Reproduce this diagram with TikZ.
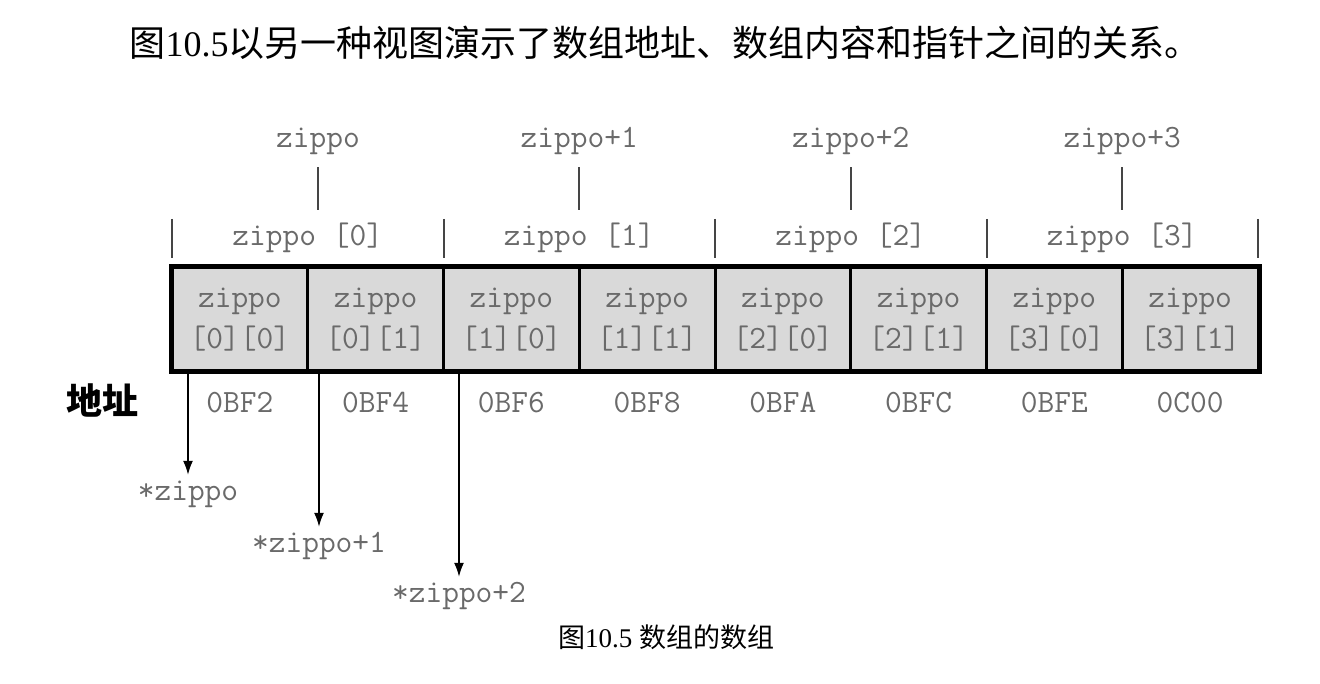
\documentclass[tikz,border=0pt]{standalone}
\usepackage{fontspec}
\setmainfont{Liberation Serif}
\newfontfamily\cjk{Noto Sans CJK SC}
\usetikzlibrary{arrows.meta}
\definecolor{txtgray}{HTML}{6A6A6A}
\definecolor{cellfill}{HTML}{D9D9D9}
\definecolor{linegray}{HTML}{454545}
\tikzset{
  mono/.style={font=\ttfamily\fontsize{32.5}{41}\selectfont, text=txtgray},
  cell/.style={mono, draw=black, line width=3pt, fill=cellfill, minimum width=135.75pt,
    minimum height=103pt, inner sep=0pt, align=center},
  toplabel/.style={mono, text height=20pt, text depth=6pt, inner xsep=0pt, inner ysep=13pt},
  starlabel/.style={mono, text height=20pt, text depth=6pt, inner xsep=0pt, inner ysep=5pt},
  addr/.style={mono, inner sep=0pt},
  tickline/.style={draw=linegray, line width=2pt},
  ptr/.style={draw=black, line width=1.6pt, -{Latex[length=14pt,width=10pt]}},
}
\begin{document}
\begin{tikzpicture}[x=1pt,y=-1pt]
\useasboundingbox (0,0) rectangle (1320,684);
% title
\node (title) at (665,43) {\fontsize{36}{40}\selectfont{\cjk 图}10.5{\cjk 以另一种视图演示了数组地址、数组内容和指针之间的关系。}};
% cells
\foreach \i/\a/\b in {1/0/0,2/0/1,3/1/0,4/1/1,5/2/0,6/2/1,7/3/0,8/3/1}{
  \node[cell] (c\i) at ({172+135.75*(\i-0.5)},319.5) {zippo\\{[\a][\b]}};
}
\draw[line width=4pt] (c1.north west) rectangle (c8.south east);
% group labels and ticks
\foreach \k in {0,1,2,3}{
  \node[mono] (g\k) at ({172+271.5*(\k+0.5)},238) {zippo [\k]};
}
\foreach \x in {172,443.5,715,986.5,1258}{
  \draw[tickline] (\x,219) -- (\x,258);
}
% top pointer labels
\node[toplabel] (t0) at (318,141) {zippo};
\node[toplabel] (t1) at (579.25,141) {zippo+1};
\node[toplabel] (t2) at (850.75,141) {zippo+2};
\node[toplabel] (t3) at (1122.25,141) {zippo+3};
\coordinate (t0e) at (318,210);
\coordinate (t1e) at (579.25,210);
\coordinate (t2e) at (850.75,210);
\coordinate (t3e) at (1122.25,210);
\foreach \k in {0,1,2,3}{ \draw[tickline] (t\k.south) -- (t\k e); }
% addresses
\node[font=\cjk\bfseries\fontsize{36}{40}\selectfont] (dz) at (102,400) {地址};
\foreach \i/\t in {1/0BF2,2/0BF4,3/0BF6,4/0BF8,5/0BFA,6/0BFC,7/0BFE,8/0C00}{
  \node[addr] (ad\i) at ({172+135.75*(\i-0.5)},403) {\t};
}
% pointer arrows
\coordinate (p1) at (188,372);
\coordinate (p2) at (319,372);
\coordinate (p3) at (459,372);
\node[starlabel] (s1) at (188,493) {*zippo};
\node[starlabel] (s2) at (319,545) {*zippo+1};
\node[starlabel] (s3) at (459,595) {*zippo+2};
\draw[ptr] (p1) -- (s1.north);
\draw[ptr] (p2) -- (s2.north);
\draw[ptr] (p3) -- (s3.north);
% caption
\node (cap) at (666,637) {\fontsize{27}{30}\selectfont{\cjk 图}10.5 {\cjk 数组的数组}};
\end{tikzpicture}
\end{document}
